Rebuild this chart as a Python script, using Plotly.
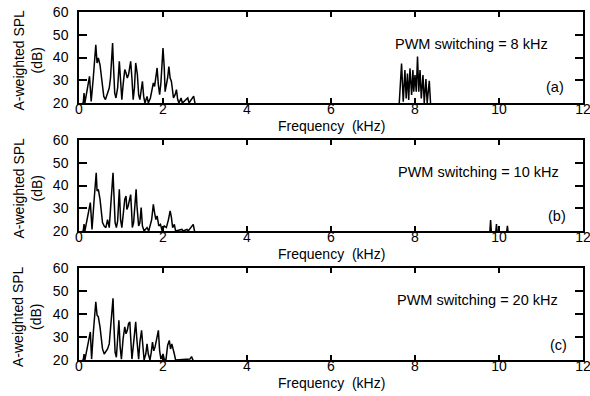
import plotly.graph_objects as go

# ---------------- data ----------------
freq_a = [0.0, 0.10, 0.12, 0.14, 0.25, 0.29, 0.34, 0.38, 0.40, 0.43, 0.46, 0.50, 0.53, 0.56, 0.59, 0.63,
          0.66, 0.69, 0.72, 0.75, 0.78, 0.80, 0.82, 0.85, 0.88, 0.92, 0.96, 0.99, 1.02, 1.05, 1.09, 1.12,
          1.15, 1.18, 1.21, 1.23, 1.26, 1.29, 1.32, 1.35, 1.39, 1.42, 1.45, 1.48, 1.51, 1.54, 1.57, 1.62,
          1.65, 1.70, 1.73, 1.77, 1.80, 1.83, 1.86, 1.89, 1.92, 1.95, 1.99, 2.00, 2.03, 2.05, 2.08, 2.11,
          2.14, 2.17, 2.20, 2.22, 2.25, 2.29, 2.32, 2.35, 2.38, 2.43, 2.46, 2.59, 2.62, 2.73, 2.76, 2.80,
          7.60, 7.625, 7.68, 7.72, 7.76, 7.79, 7.82, 7.85, 7.88, 7.92, 7.95, 7.97, 8.00, 8.03, 8.06, 8.09,
          8.12, 8.15, 8.19, 8.22, 8.26, 8.29, 8.34, 8.37, 8.40, 12.0]
spl_a = [19, 20, 24.4, 20, 31.7, 20.7, 31, 39.8, 45.6, 37.6, 39.8, 36.8, 32.5, 26.6, 22.9, 21.5,
         22.9, 25, 26.6, 31, 41.2, 46.4, 36.8, 24.4, 22.2, 26.6, 38.3, 26.6, 21.5, 28, 34.7, 33.2,
         31, 32.5, 36.8, 38.3, 31, 21.5, 26.6, 37.6, 32.5, 23.7, 21.5, 25, 29.5, 22.9, 20, 22.9,
         20, 22.2, 25.9, 28.8, 27.3, 31.7, 35.4, 28, 23.7, 28.8, 39.8, 44.2, 35.4, 25, 28, 31,
         36, 31, 29.5, 25, 22.2, 23.7, 25.9, 21.5, 20, 22.2, 20, 22.2, 20, 23, 20, 19,
         19, 20, 37.4, 20.6, 34.5, 22, 33, 21.3, 35.2, 23.5, 34.5, 25, 32.3, 25, 40.4, 25,
         34.5, 22, 32.3, 20, 30.5, 20, 29.8, 20, 19, 19]

freq_b = [0.0, 0.10, 0.12, 0.14, 0.27, 0.31, 0.36, 0.39, 0.41, 0.43, 0.46, 0.50, 0.53, 0.56, 0.60, 0.64,
          0.68, 0.72, 0.75, 0.78, 0.81, 0.83, 0.86, 0.89, 0.92, 0.96, 0.99, 1.02, 1.05, 1.09, 1.12, 1.14,
          1.17, 1.20, 1.23, 1.25, 1.27, 1.30, 1.33, 1.36, 1.38, 1.42, 1.45, 1.48, 1.51, 1.55, 1.62, 1.66,
          1.73, 1.77, 1.80, 1.83, 1.86, 1.90, 1.94, 1.98, 2.03, 2.08, 2.13, 2.17, 2.20, 2.23, 2.27, 2.30,
          2.45, 2.48, 2.57, 2.60, 2.72, 2.75, 2.80,
          9.78, 9.80, 9.82, 9.92, 9.94, 9.96, 10.18, 10.20, 10.22, 12.0]
spl_b = [19, 20, 23, 20, 32.5, 20.7, 33.6, 40.5, 45.6, 37.6, 38.3, 34, 29.5, 23.7, 22.2, 21.5,
         25, 21.5, 29.5, 39.8, 45.6, 36.8, 23.7, 21.5, 24.4, 38.3, 25, 21.5, 26.6, 34, 35.4, 29.5,
         31, 34, 36, 29.5, 21.5, 23.7, 34, 38.3, 31, 22.2, 23.7, 30.3, 22.2, 20, 21.5, 20,
         25, 31.7, 28, 25, 26.6, 22.2, 22.9, 20, 22.2, 21.5, 25, 28.8, 26, 21.5, 22.9, 20,
         20.7, 20, 20.7, 20, 22.9, 20, 19,
         19, 24.8, 19, 19, 23, 19, 19, 22.3, 19, 19]

freq_c = [0.0, 0.10, 0.12, 0.14, 0.27, 0.30, 0.34, 0.37, 0.40, 0.43, 0.46, 0.50, 0.53, 0.56, 0.60, 0.64,
          0.68, 0.72, 0.75, 0.78, 0.81, 0.83, 0.86, 0.89, 0.93, 0.95, 0.98, 1.01, 1.05, 1.09, 1.12, 1.15,
          1.18, 1.21, 1.23, 1.26, 1.29, 1.33, 1.35, 1.38, 1.42, 1.45, 1.49, 1.51, 1.55, 1.59, 1.62, 1.65,
          1.69, 1.72, 1.75, 1.78, 1.81, 1.85, 1.89, 1.92, 1.95, 2.00, 2.03, 2.07, 2.11, 2.15, 2.18, 2.21,
          2.24, 2.27, 2.30, 2.64, 2.68, 2.71, 2.80, 12.0]
spl_c = [19, 20, 22.6, 20, 32.2, 20.4, 31.6, 38.8, 45.3, 39.5, 38.8, 34.4, 29.2, 24.8, 22.6, 24,
         24.8, 27, 34.4, 41.7, 46.8, 35.8, 23.3, 21.2, 32.9, 37.3, 25.6, 20.4, 29.2, 34.4, 31.4, 32.9,
         35.8, 36.6, 29.9, 20.4, 25.6, 35.8, 36.6, 28.5, 20.4, 27.8, 32.9, 28.5, 20, 22.6, 27, 22.6,
         20, 23.3, 27.8, 24, 25.6, 29.2, 32.9, 24, 20.4, 22.6, 20.4, 20, 26.3, 28.5, 24.8, 27,
         24, 22.6, 20, 20.4, 21.5, 20, 19, 19]

x_ticks = [0, 2, 4, 6, 8, 10, 12]
y_ticks = [20, 30, 40, 50, 60]
pwm_labels = ["PWM switching = 8 kHz", "PWM switching = 10 kHz", "PWM switching = 20 kHz"]
panel_labels = ["(a)", "(b)", "(c)"]
x_title = "Frequency  (kHz)"
y_title = "A-weighted SPL<br>(dB)"

# ---------------- layout geometry ----------------
W, H = 590, 396
FONT = "Arial, Liberation Sans, Helvetica, sans-serif"
x_dom = [79 / W, 583 / W]
panels_px = [(12, 103), (140, 231), (268, 360)]  # top, bottom of each plot area in px
pwm_pos = [(471, 44), (478, 172), (477, 300)]
lab_pos = [(555, 87), (557, 216), (558, 345)]

series = [(freq_a, spl_a), (freq_b, spl_b), (freq_c, spl_c)]

fig = go.Figure()
annotations = []
for i, ((fx, fy), (top, bot)) in enumerate(zip(series, panels_px)):
    n = "" if i == 0 else str(i + 1)
    fig.add_trace(go.Scatter(x=fx, y=fy, mode="lines", xaxis="x" + n, yaxis="y" + n,
                             line=dict(color="black", width=1.5), showlegend=False,
                             hoverinfo="skip"))
    ydom = [1 - bot / H, 1 - top / H]
    common = dict(showline=True, linecolor="black", linewidth=1.5, mirror="ticks",
                  ticks="inside", tickcolor="black", tickwidth=1.8, showgrid=False,
                  zeroline=False, ticklabeloverflow="allow", automargin=False,
                  tickfont=dict(family=FONT, size=14, color="black"))
    fig.update_layout(**{
        "xaxis" + n: dict(domain=x_dom, range=[0, 12], tickvals=x_ticks, ticklen=5,
                          anchor="y" + n, ticklabelstandoff=-8, **common),
        "yaxis" + n: dict(domain=ydom, range=[20, 60], tickvals=y_ticks, ticklen=8,
                          anchor="x" + n, ticklabelstandoff=6, **common),
    })
    # axis titles
    annotations.append(dict(text=x_title, x=331 / W, y=1 - (bot + 23) / H, xref="paper", yref="paper",
                            showarrow=False, font=dict(family=FONT, size=14, color="black"),
                            xanchor="center", yanchor="middle"))
    annotations.append(dict(text=y_title, x=27 / W, y=1 - ((top + bot) / 2 + 3) / H, xref="paper",
                            yref="paper", showarrow=False, textangle=-90,
                            font=dict(family=FONT, size=14, color="black"),
                            xanchor="center", yanchor="middle"))
    px, py = pwm_pos[i]
    annotations.append(dict(text=pwm_labels[i], x=px / W, y=1 - py / H, xref="paper", yref="paper",
                            showarrow=False, font=dict(family=FONT, size=14.5, color="black"),
                            xanchor="center", yanchor="middle"))
    lx, ly = lab_pos[i]
    annotations.append(dict(text=panel_labels[i], x=lx / W, y=1 - ly / H, xref="paper", yref="paper",
                            showarrow=False, font=dict(family=FONT, size=14.5, color="black"),
                            xanchor="center", yanchor="middle"))

fig.update_layout(width=W, height=H, margin=dict(l=0, r=0, t=0, b=0, autoexpand=False),
                  paper_bgcolor="white", plot_bgcolor="white",
                  annotations=annotations, font=dict(family=FONT, size=14, color="black"))

fig.write_html("out.html", config={"displayModeBar": False})
